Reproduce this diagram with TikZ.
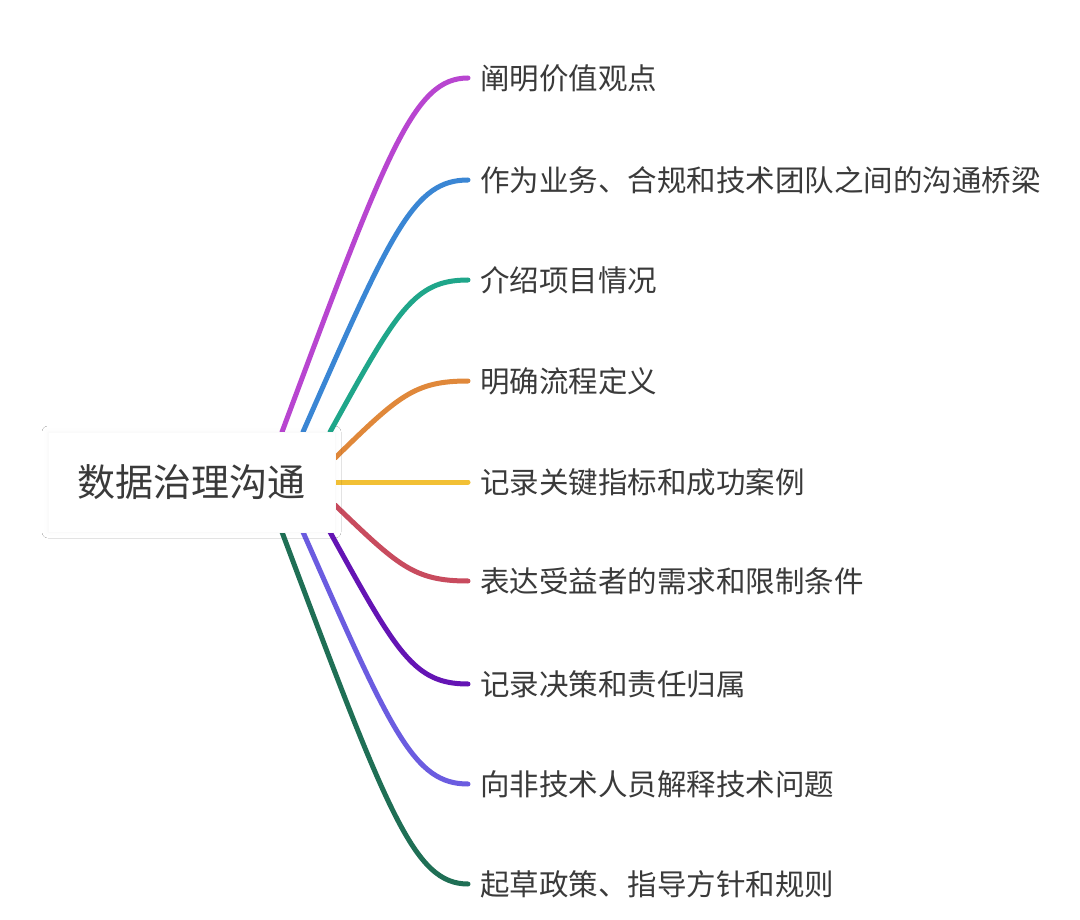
\documentclass[tikz,border=0pt]{standalone}
\usepackage{fontspec}
\setmainfont{Noto Sans CJK SC}
\usetikzlibrary{shadows.blur}
\definecolor{txt}{HTML}{3A3A3A}
\definecolor{cA}{HTML}{B845D0}
\definecolor{cB}{HTML}{3A86D4}
\definecolor{cC}{HTML}{1FA68A}
\definecolor{cD}{HTML}{E0883A}
\definecolor{cE}{HTML}{F2C035}
\definecolor{cF}{HTML}{C84B5E}
\definecolor{cG}{HTML}{6414B4}
\definecolor{cH}{HTML}{6B5CE0}
\definecolor{cI}{HTML}{1F6F55}
\tikzset{
  leaf/.style={anchor=west, inner xsep=12pt, inner ysep=0pt, text=txt, font=\fontsize{29.5pt}{32pt}\selectfont},
  rootbox/.style={fill=white, draw=black!2, line width=0.6pt, minimum width=287pt, minimum height=100pt, text=txt, font=\fontsize{38pt}{42pt}\selectfont,
    blur shadow={shadow xshift=0pt, shadow yshift=0pt, shadow blur radius=6pt, shadow opacity=3}},
  branch/.style={line width=5pt, line cap=round}
}
\begin{document}
\begin{tikzpicture}[x=1pt,y=-1pt]
\useasboundingbox (0,0) rectangle (1080,920);
\fill[white] (0,0) rectangle (1080,920);
% leaves
\node[leaf] (c1) at (468,78)  {阐明价值观点};
\node[leaf] (c2) at (468,180) {作为业务、合规和技术团队之间的沟通桥梁};
\node[leaf] (c3) at (468,280) {介绍项目情况};
\node[leaf] (c4) at (468,381) {明确流程定义};
\node[leaf] (c5) at (468,482) {记录关键指标和成功案例};
\node[leaf] (c6) at (468,581) {表达受益者的需求和限制条件};
\node[leaf] (c7) at (468,684) {记录决策和责任归属};
\node[leaf] (c8) at (468,784) {向非技术人员解释技术问题};
\node[leaf] (c9) at (468,884) {起草政策、指导方针和规则};
% start points on the root box border
\coordinate (s1) at (282,432);
\coordinate (s2) at (303,432);
\coordinate (s3) at (330,432);
\coordinate (s4) at (335,458);
\coordinate (s5) at (335,482);
\coordinate (s6) at (335,505);
\coordinate (s7) at (330,532);
\coordinate (s8) at (303,532);
\coordinate (s9) at (282,532);
% branches
\draw[branch, cA] (s1) .. controls (387.6,148.8) and (414,78)  .. (c1.west);
\draw[branch, cB] (s2) .. controls (391.8,230.4) and (414,180) .. (c2.west);
\draw[branch, cC] (s3) .. controls (397.2,310.4) and (414,280) .. (c3.west);
\draw[branch, cD] (s4) .. controls (398.2,396.4) and (414,381) .. (c4.west);
\draw[branch, cE] (s5) -- (c5.west);
\draw[branch, cF] (s6) .. controls (398.2,565.8) and (414,581) .. (c6.west);
\draw[branch, cG] (s7) .. controls (397.2,653.6) and (414,684) .. (c7.west);
\draw[branch, cH] (s8) .. controls (391.8,733.6) and (414,784) .. (c8.west);
\draw[branch, cI] (s9) .. controls (387.6,813.6) and (414,884) .. (c9.west);
% root
\node[rootbox] (root) at (191.5,482) {数据治理沟通};
\end{tikzpicture}
\end{document}
